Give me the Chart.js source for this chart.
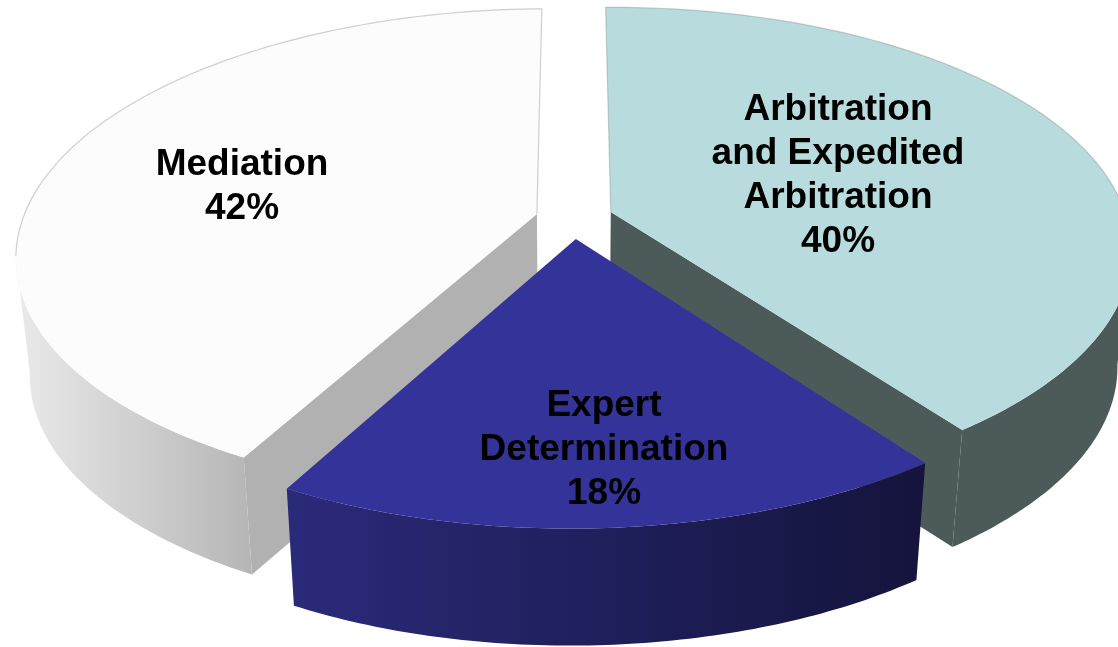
<!DOCTYPE html>
<html>
<head>
<meta charset="utf-8">
<title>Dispute resolution shares</title>
<script src="https://cdn.jsdelivr.net/npm/chart.js@4"></script>
<style>
    html, body { margin: 0; padding: 0; background: #fff; overflow: hidden; }
    canvas { display: block; }
</style>
</head>
<body>
<canvas id="pieChart" width="1118" height="647"></canvas>
<script>
// ---------------- DATA ----------------
const categories = ["Arbitration and Expedited Arbitration", "Expert Determination", "Mediation"];
const shares = [40, 18, 42];
const labelLines = [
    ["Arbitration", "and Expedited", "Arbitration"],
    ["Expert", "Determination"],
    ["Mediation"]
];

// ---------------- STYLE ----------------
const topColors = ["#b8dcdd", "#333399", "#fcfcfc"];
const explode = [24, 27, 22.5];
const rimScale = [1, 0.99, 1];
const labelCentres = [[838, 110], [604, 406], [242, 165]];
const lineGap = 44;

// perspective of the pie plane, fitted to the picture
const view = { x: 573, y: 218, sx: 515, sy: 239, persp: 0.159, lean: 0.006, depth: 117, shrink: 0.975 };

function project(u, v) {
    const w = 1 - view.persp * v;
    const dx = view.sx * u / w;
    return [view.x + dx, view.y + view.sy * v / w - view.lean * dx];
}
function lower(p) {
    return [view.x + (p[0] - view.x) * view.shrink, p[1] + view.depth];
}

// point on a slice: a = chart angle, r = 0 for the tip, 1 for the rim
function slicePoint(arc, a, r) {
    const mid = (arc.startAngle + arc.endAngle) / 2;
    const off = arc.options.offset / arc.outerRadius;
    return project(off * Math.cos(mid) + r * Math.cos(a), off * Math.sin(mid) + r * Math.sin(a));
}
function rimPoints(arc, from, to, r) {
    const pts = [];
    const steps = 80;
    for (let i = 0; i <= steps; i++) {
        pts.push(slicePoint(arc, from + (to - from) * i / steps, r));
    }
    return pts;
}
function fillPoly(ctx, pts, fill) {
    ctx.beginPath();
    pts.forEach((p, i) => i ? ctx.lineTo(p[0], p[1]) : ctx.moveTo(p[0], p[1]));
    ctx.closePath();
    ctx.fillStyle = fill;
    ctx.fill();
}
function strokeLine(ctx, pts, colour) {
    ctx.beginPath();
    pts.forEach((p, i) => i ? ctx.lineTo(p[0], p[1]) : ctx.moveTo(p[0], p[1]));
    ctx.strokeStyle = colour;
    ctx.lineWidth = 1.2;
    ctx.stroke();
}
function hGradient(ctx, x0, x1, c0, c1) {
    const g = ctx.createLinearGradient(x0, 0, x1, 0);
    g.addColorStop(0, c0);
    g.addColorStop(1, c1);
    return g;
}

// the rim wall only shows on the part of the circle that faces us
const backLimit = Math.asin(view.persp);

function drawSlice(ctx, arc, i) {
    const r = rimScale[i];
    const tip = slicePoint(arc, arc.startAngle, 0);

    if (i === 2) {
        // mediation: inner wall under the start edge, then rim wall
        const corner = slicePoint(arc, arc.startAngle, r);
        fillPoly(ctx, [tip, corner, lower(corner), lower(tip)], "#b1b1b1");
        const rim = rimPoints(arc, arc.startAngle, Math.PI - backLimit, r);
        fillPoly(ctx, rim.concat(rim.map(lower).reverse()), hGradient(ctx, 20, 250, "#e9e9e9", "#b6b6b6"));
    } else if (i === 0) {
        const corner = slicePoint(arc, arc.endAngle, r);
        fillPoly(ctx, [tip, corner, lower(corner), lower(tip)], "#4d5a5a");
        const rim = rimPoints(arc, backLimit, arc.endAngle, r);
        fillPoly(ctx, rim.concat(rim.map(lower).reverse()), "#4d5a5a");
    } else {
        const rim = rimPoints(arc, arc.startAngle, arc.endAngle, r);
        fillPoly(ctx, rim.concat(rim.map(lower).reverse()), hGradient(ctx, 290, 920, "#2a2a7a", "#14143c"));
    }

    // top face
    const face = [tip].concat(rimPoints(arc, arc.startAngle, arc.endAngle, r));
    fillPoly(ctx, face, arc.options.backgroundColor);

    // thin shaded edge along the back of the two big slices
    if (i === 2) {
        const back = rimPoints(arc, Math.PI - backLimit, arc.endAngle, r);
        strokeLine(ctx, back.concat([tip]), "rgba(150,150,150,0.45)");
    } else if (i === 0) {
        const back = rimPoints(arc, arc.startAngle, backLimit, r);
        strokeLine(ctx, [tip].concat(back), "rgba(120,140,140,0.4)");
    }
}

const tiltedPie = {
    id: "tiltedPie",
    beforeDatasetDraw(chart, args) {
        const ctx = chart.ctx;
        const arcs = chart.getDatasetMeta(args.index).data;
        ctx.save();
        [2, 0, 1].forEach(i => drawSlice(ctx, arcs[i], i));
        ctx.restore();
        return false;
    },
    afterDatasetsDraw(chart) {
        const ctx = chart.ctx;
        ctx.save();
        ctx.fillStyle = "#000";
        ctx.font = "bold 37px 'Liberation Sans', Arial, sans-serif";
        ctx.textAlign = "center";
        ctx.textBaseline = "middle";
        labelLines.forEach((lines, i) => {
            const all = lines.concat([shares[i] + "%"]);
            all.forEach((line, j) => {
                ctx.fillText(line, labelCentres[i][0], labelCentres[i][1] + j * lineGap);
            });
        });
        ctx.restore();
    }
};

// ---------------- DRAW CHART ----------------
new Chart(document.getElementById("pieChart"), {
    type: "pie",
    data: {
        labels: categories,
        datasets: [{
            data: shares,
            backgroundColor: topColors,
            offset: explode,
            borderWidth: 0
        }]
    },
    options: {
        responsive: false,
        animation: false,
        plugins: {
            legend: { display: false },
            tooltip: { enabled: false }
        }
    },
    plugins: [tiltedPie]
});
</script>
</body>
</html>
